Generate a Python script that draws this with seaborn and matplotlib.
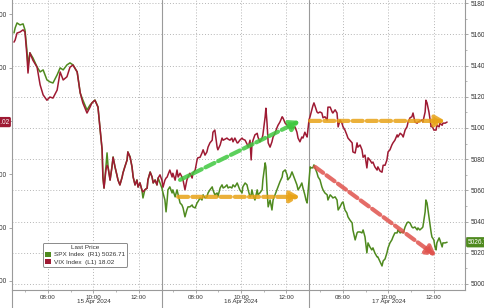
import numpy as np
import pandas as pd
import matplotlib
matplotlib.use("Agg")
import matplotlib.pyplot as plt
import matplotlib.transforms as mtransforms
from matplotlib.patches import Patch
import seaborn as sns

# ---------------- data ----------------
# minutes on a session-compressed axis: each trading day shown 06:30-13:00 (390 min)
session_minute = [
    0, 3, 8, 16, 24, 29, 34, 37, 42, 50, 61, 69, 77, 87, 95, 103, 114, 122, 130, 140,
    148, 156, 167, 175, 182, 193, 201, 206, 214, 222, 227, 233, 235, 238, 243, 246, 249, 254, 259, 262,
    267, 272, 275, 280, 286, 288, 293, 299, 301, 307, 312, 315, 320, 325, 328, 333, 338, 341, 346, 352,
    354, 360, 365, 368, 373, 378, 381, 386,
    391, 394, 399, 402, 405, 407, 412, 418, 420, 426, 431, 434, 439, 444, 447, 452, 457, 460, 465, 471,
    473, 479, 484, 486, 492, 497, 500, 505, 510, 513, 518, 524, 526, 531, 537, 539, 545, 550, 553, 558,
    563, 566, 571, 576, 579, 584, 590, 592, 597, 603, 605, 611, 616, 619, 624, 627, 629, 632, 637, 643,
    645, 650, 656, 658, 664, 666, 669, 672, 677, 682, 685, 690, 695, 698, 703, 709, 711, 717, 722, 724,
    730, 735, 738, 743, 748, 751, 756, 761, 764, 769, 772, 775,
    780, 783, 786, 790, 793, 796, 801, 804, 809, 814, 817, 822, 828, 830, 836, 841, 843, 849, 854, 857,
    862, 867, 870, 875, 880, 883, 888, 894, 896, 902, 907, 909, 915, 920, 923, 928, 933, 936, 941, 946,
    949, 954, 960, 962, 968, 973, 976, 981, 986, 989, 994, 999, 1002, 1007, 1013, 1015, 1021, 1026, 1029, 1034,
    1039, 1042, 1047, 1052, 1055, 1060, 1066, 1068, 1073, 1079, 1081, 1087, 1089, 1092, 1097, 1103, 1105, 1110, 1113, 1116,
    1118, 1124, 1126, 1132, 1134, 1140, 1145,
]

spx_close = [
    5160.9, 5164.1, 5167.3, 5166.0, 5166.7, 5162.8, 5150.0, 5140.4, 5148.1, 5144.9,
    5139.1, 5135.9, 5137.2, 5130.8, 5129.5, 5128.8, 5134.0, 5138.5, 5137.2, 5140.4,
    5141.7, 5140.4, 5135.9, 5122.4, 5117.9, 5111.5, 5114.7, 5116.0, 5117.9, 5113.5,
    5100.6, 5085.9, 5068.6, 5061.5, 5075.0, 5084.0, 5074.4, 5066.7, 5075.0, 5081.4,
    5075.0, 5069.9, 5066.7, 5063.5, 5068.6, 5071.2, 5075.0, 5079.5, 5084.6, 5081.4,
    5075.0, 5068.6, 5063.5, 5066.7, 5062.2, 5064.7, 5060.3, 5055.1, 5060.3, 5061.5,
    5066.7, 5071.8, 5068.6, 5064.7, 5066.7, 5063.5, 5067.9, 5064.7,
    5061.5, 5058.3, 5053.8, 5046.2, 5053.8, 5060.3, 5062.2, 5058.3, 5060.3, 5055.8,
    5060.3, 5057.1, 5051.9, 5050.6, 5048.7, 5043.0, 5047.4, 5049.4, 5049.4, 5050.6,
    5049.4, 5048.7, 5051.9, 5052.6, 5055.1, 5053.8, 5057.1, 5055.1, 5055.8, 5058.3,
    5060.3, 5062.2, 5060.3, 5057.1, 5058.3, 5055.8, 5061.5, 5063.5, 5061.5, 5062.2,
    5063.5, 5061.5, 5062.2, 5061.5, 5063.5, 5062.2, 5064.7, 5063.5, 5060.3, 5058.3,
    5062.2, 5064.7, 5063.5, 5060.3, 5055.8, 5057.1, 5060.3, 5057.1, 5053.8, 5060.3,
    5057.1, 5058.3, 5060.3, 5066.7, 5077.6, 5075.0, 5060.3, 5049.4, 5053.8, 5047.4,
    5053.8, 5057.1, 5060.3, 5062.2, 5065.4, 5068.6, 5071.8, 5073.1, 5069.9, 5066.7,
    5068.6, 5071.8, 5069.9, 5066.7, 5063.5, 5060.3, 5062.2, 5064.7, 5061.5, 5057.1,
    5053.8, 5051.9,
    5066.7, 5075.0, 5074.4, 5074.4, 5076.3, 5074.4, 5071.2, 5068.6, 5066.7, 5062.2,
    5060.3, 5058.3, 5057.1, 5053.8, 5057.1, 5055.8, 5055.1, 5055.8, 5053.8, 5047.4,
    5049.4, 5051.9, 5052.6, 5047.4, 5045.5, 5043.0, 5041.0, 5039.1, 5034.6, 5028.2,
    5032.7, 5033.3, 5033.3, 5032.7, 5034.6, 5030.1, 5019.9, 5026.3, 5023.7, 5021.8,
    5023.1, 5019.9, 5017.3, 5017.3, 5014.1, 5011.5, 5014.7, 5016.0, 5019.9, 5023.1,
    5026.3, 5028.2, 5030.1, 5032.7, 5032.7, 5034.6, 5032.7, 5033.3, 5032.7, 5036.5,
    5039.1, 5039.7, 5039.1, 5036.5, 5035.9, 5036.5, 5034.6, 5035.9, 5034.6, 5035.9,
    5036.5, 5046.2, 5053.8, 5051.9, 5043.0, 5032.7, 5030.1, 5028.2, 5023.7, 5021.8,
    5026.3, 5029.5, 5028.2, 5023.7, 5026.3, 5026.3, 5026.71,
]

vix_close = [
    16.52, 16.48, 16.35, 16.33, 16.29, 16.33, 16.76, 17.10, 16.72, 16.86,
    16.99, 17.32, 17.51, 17.61, 17.55, 17.57, 17.42, 17.08, 17.23, 17.17,
    16.99, 16.95, 17.08, 17.47, 17.66, 17.85, 17.74, 17.66, 17.61, 17.74,
    18.11, 18.54, 19.05, 19.26, 18.92, 18.83, 18.88, 19.11, 18.86, 18.68,
    18.86, 19.01, 19.11, 19.20, 19.05, 18.98, 18.86, 18.73, 18.58, 18.68,
    18.86, 19.05, 19.20, 19.11, 19.24, 19.16, 19.29, 19.33, 19.29, 19.26,
    19.11, 18.96, 19.05, 19.16, 19.11, 19.20, 19.07, 19.01,
    19.11, 19.24, 19.11, 19.07, 19.05, 19.01, 18.92, 19.05, 18.98, 19.11,
    18.92, 19.05, 18.98, 19.05, 19.11, 19.29, 19.11, 19.05, 18.98, 19.07,
    18.98, 18.92, 18.73, 18.69, 18.68, 18.60, 18.54, 18.64, 18.58, 18.49,
    18.41, 18.36, 18.21, 18.17, 18.49, 18.54, 18.45, 18.32, 18.36, 18.34,
    18.32, 18.34, 18.36, 18.32, 18.39, 18.32, 18.41, 18.41, 18.36, 18.32,
    18.34, 18.36, 18.43, 18.49, 18.36, 18.73, 18.45, 18.36, 18.26, 18.23,
    18.30, 18.39, 18.32, 18.26, 17.92, 17.76, 18.04, 18.41, 18.49, 18.39,
    18.30, 18.23, 18.13, 18.08, 18.02, 17.92, 17.94, 18.04, 18.08, 18.11,
    18.13, 18.13, 18.13, 18.11, 18.21, 18.32, 18.39, 18.30, 18.32, 18.21,
    18.26, 18.30,
    17.98, 17.91, 17.83, 17.72, 17.66, 17.72, 17.83, 17.85, 17.83, 17.85,
    17.94, 17.92, 17.98, 17.74, 17.74, 17.83, 17.85, 17.79, 17.85, 18.11,
    17.98, 18.04, 18.11, 18.17, 18.26, 18.32, 18.36, 18.41, 18.58, 18.60,
    18.41, 18.49, 18.45, 18.54, 18.68, 18.64, 18.88, 18.69, 18.73, 18.79,
    18.77, 18.86, 18.92, 18.86, 18.94, 18.96, 18.83, 18.83, 18.73, 18.58,
    18.54, 18.45, 18.41, 18.36, 18.26, 18.30, 18.23, 18.26, 18.30, 18.17,
    18.11, 18.02, 17.94, 17.92, 17.85, 18.02, 18.04, 18.02, 18.00, 17.98,
    18.02, 17.83, 17.61, 17.66, 17.83, 18.11, 18.08, 18.17, 18.17, 18.17,
    18.08, 18.11, 18.04, 18.08, 18.04, 18.04, 18.02,
]

day_labels = ["15 Apr 2024", "16 Apr 2024", "17 Apr 2024"]
tick_times = ["08:00", "10:00", "12:00"]
minor_times = ["07:00", "09:00", "11:00"]
session_open = "06:30"
session_length = 390
spx_ticks = [5000, 5020, 5040, 5060, 5080, 5100, 5120, 5140, 5160, 5180]
vix_ticks = [16, 17, 18, 19, 20, 21]

# trend annotations (start minute, start SPX level, end minute, end SPX level, colour)
trend_arrows = [
    (439, 5066.7, 756, 5104.5, "#3fc83f"),
    (434, 5055.8, 756, 5055.8, "#e8a317"),
    (783, 5104.5, 1140, 5104.5, "#e8a317"),
    (796, 5075.0, 1116, 5018.0, "#e0524c"),
]

# ---------------- style ----------------
GREEN = "#4f8a1f"
RED = "#9e1a33"
GRID = "#b5b5b5"
SPINE = "#9a9a9a"
TXT = "#333333"

sns.set_style("white")
plt.rcParams["font.family"] = ["Liberation Sans", "DejaVu Sans"]

fig = plt.figure(figsize=(4.85, 3.08), dpi=100)
ax = fig.add_axes([12 / 485, 18 / 308, 453 / 485, 290 / 308])
ax2 = ax.twinx()

df = pd.DataFrame({"minute": session_minute, "SPX": spx_close, "VIX": vix_close})

sns.lineplot(data=df, x="minute", y="SPX", ax=ax, color=GREEN, lw=1.1, legend=False)
sns.lineplot(data=df, x="minute", y="VIX", ax=ax2, color=RED, lw=1.1, legend=False)

for a in (ax, ax2):
    a.set_xlabel("")
    a.set_ylabel("")

ax.set_xlim(-5.3, 1192.4)
ax.set_ylim(4996.1, 5182.0)
ax2.set_ylim(21.17, 15.73)  # inverted VIX axis


def to_min(s):
    h, m = s.split(":")
    return int(h) * 60 + int(m)


open_m = to_min(session_open)
major_pos, major_lab, minor_pos = [], [], []
for d, dl in enumerate(day_labels):
    for t in tick_times:
        major_pos.append(d * session_length + to_min(t) - open_m)
        major_lab.append(t + ("\n" + dl if t == "10:00" else ""))
    for t in minor_times:
        minor_pos.append(d * session_length + to_min(t) - open_m)

ax.set_xticks(major_pos)
ax.set_xticklabels(major_lab)
ax.set_xticks(minor_pos, minor=True)
for lbl in ax.get_xticklabels():
    lbl.set_linespacing(0.95)

ax.set_yticks(spx_ticks)
ax.set_yticklabels([str(v) for v in spx_ticks])
ax.yaxis.tick_right()
ax.set_yticks([v + 10 for v in spx_ticks[:-1]], minor=True)

ax2.yaxis.tick_left()
ax2.set_yticks(vix_ticks)
# the 18.00 label sits under the last-price tag, as in the original
ax2.set_yticklabels(["" if abs(v - round(vix_close[-1])) < 1e-9 else f"{v:.2f}" for v in vix_ticks])

ax.tick_params(axis="x", which="major", direction="out", length=2.5, width=0.6, color=SPINE,
               labelsize=4.5, labelcolor=TXT, pad=0.8, bottom=True)
ax.tick_params(axis="x", which="minor", direction="out", length=1.5, width=0.5, color=SPINE, bottom=True)
ax.tick_params(axis="y", which="major", direction="out", length=2.5, width=0.6, color=SPINE,
               labelsize=4.7, labelcolor=TXT, pad=1.5, right=True, left=False,
               labelright=True, labelleft=False)
ax.tick_params(axis="y", which="minor", direction="out", length=1.5, width=0.5, color=SPINE,
               right=True, left=False)
ax2.tick_params(axis="y", which="major", direction="out", length=2.5, width=0.6, color=SPINE,
                labelsize=4.7, labelcolor=TXT, pad=1.5, left=True, right=False,
                labelleft=True, labelright=False)

ax.grid(True, which="major", axis="both", color=GRID, lw=0.7, ls=(0, (1, 2)))
ax2.grid(False)

for s in ("left", "right", "bottom"):
    ax.spines[s].set_color(SPINE)
    ax.spines[s].set_linewidth(0.8)
ax.spines["top"].set_visible(False)
for s in ax2.spines.values():
    s.set_visible(False)

# day separators and extended left spine (down into the label band)
sep_tr = mtransforms.blended_transform_factory(ax.transData, ax.transAxes)
for b in [session_length * d for d in range(1, len(day_labels))]:
    ax.plot([b, b], [-0.065, 1.0], transform=sep_tr, color=SPINE, lw=0.8, clip_on=False, zorder=1)
ax.plot([0, 0], [-0.065, 0], transform=ax.transAxes, color=SPINE, lw=0.8, clip_on=False)

# trend arrows
for x0, y0, x1, y1, c in trend_arrows:
    ax2.annotate("", xy=(x1, y1), xytext=(x0, y0), xycoords=ax.transData, textcoords=ax.transData,
                 arrowprops=dict(arrowstyle="-|>,head_length=0.55,head_width=0.32", color=c, lw=3.0,
                                 linestyle=(0, (2.4, 1.0)), shrinkA=0, shrinkB=0, alpha=0.85),
                 zorder=6)

# last-price tags
tr_r = mtransforms.blended_transform_factory(ax.transAxes, ax.transData)
ax2.text(1.006, spx_close[-1], f"{spx_close[-1]:.2f}", transform=tr_r, ha="left", va="center",
         fontsize=4.7, color="white", zorder=10, clip_on=False,
         bbox=dict(boxstyle="round,pad=0.25", fc=GREEN, ec="none"))
tr_l = mtransforms.blended_transform_factory(ax2.transAxes, ax2.transData)
ax2.text(-0.006, vix_close[-1], f"{vix_close[-1]:.2f}", transform=tr_l, ha="right", va="center",
         fontsize=4.7, color="white", zorder=10, clip_on=False,
         bbox=dict(boxstyle="round,pad=0.25", fc=RED, ec="none"))

# legend
handles = [Patch(facecolor=GREEN, edgecolor="none"), Patch(facecolor=RED, edgecolor="none")]
labels = [f"SPX Index  (R1) {spx_close[-1]:.2f}", f"VIX Index  (L1) {vix_close[-1]:.2f}"]
leg = ax2.legend(handles, labels, title="Last Price", loc="upper left",
                 bbox_to_anchor=(43 / 485, 1 - 243 / 308), bbox_transform=fig.transFigure,
                 fontsize=4.6, title_fontsize=4.6, frameon=True, fancybox=True,
                 edgecolor="#8a8a8a", facecolor="white", framealpha=1,
                 handlelength=0.9, handleheight=0.9, handletextpad=0.4,
                 borderpad=0.35, labelspacing=0.2, borderaxespad=0)
leg.get_frame().set_linewidth(0.7)
for t in leg.get_texts():
    t.set_color(TXT)
leg.get_title().set_color(TXT)
leg.set_zorder(20)

fig.savefig("out.png", dpi=100)
